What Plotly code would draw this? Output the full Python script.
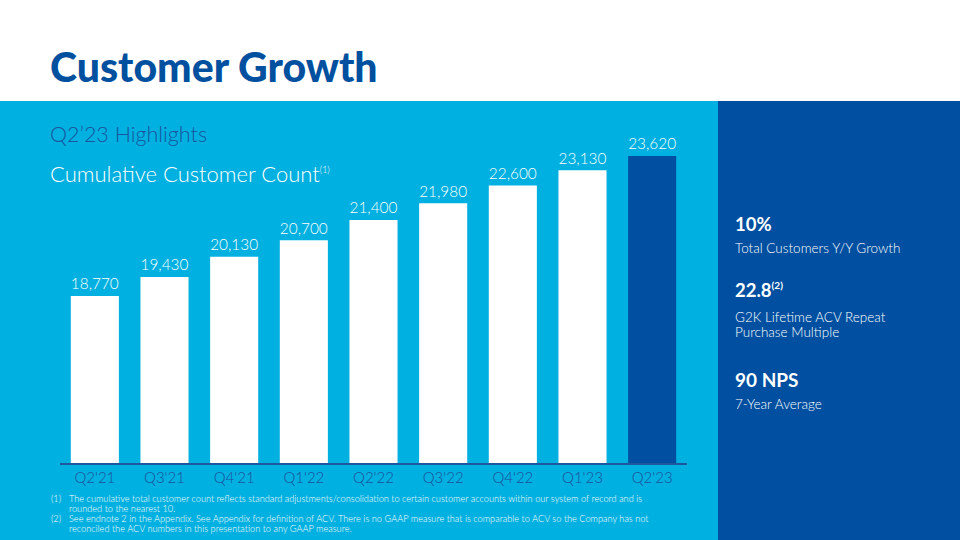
import plotly.graph_objects as go

quarters = ["Q2'21", "Q3'21", "Q4'21", "Q1'22", "Q2'22", "Q3'22", "Q4'22", "Q1'23", "Q2'23"]
customers = [18770, 19430, 20130, 20700, 21400, 21980, 22600, 23130, 23620]
labels = ["18,770", "19,430", "20,130", "20,700", "21,400", "21,980", "22,600", "23,130", "23,620"]

LIGHT = "#00B0E0"
DARK = "#004FA0"
FONT = "Lato"

colors = ["#FFFFFF"] * (len(quarters) - 1) + [DARK]

fig = go.Figure()
fig.add_trace(go.Bar(
    x=quarters, y=customers, text=labels, textposition="outside",
    textfont=dict(color="white", size=17, family=FONT, weight=300),
    marker=dict(color=colors, line=dict(width=0)),
    cliponaxis=False, hoverinfo="skip",
))

W, H = 960, 540
def px(x): return x / W
def py(y): return 1 - y / H

fig.update_layout(
    width=W, height=H, margin=dict(l=0, r=0, t=0, b=0),
    paper_bgcolor="white", plot_bgcolor="rgba(0,0,0,0)",
    showlegend=False, bargap=0.31,
    font=dict(family=FONT),
    xaxis=dict(domain=[px(60), px(687)], showline=True, linecolor="#1E56A0", linewidth=1.5,
               showgrid=False, ticks="", tickfont=dict(color="#1E4F9C", size=15, family=FONT, weight=300),
               fixedrange=True),
    yaxis=dict(domain=[py(463), py(100)], range=[12986, 25560], visible=False,
               showgrid=False, zeroline=False, fixedrange=True),
    shapes=[
        dict(type="rect", xref="paper", yref="paper", x0=0, x1=px(718), y0=0, y1=py(101),
             fillcolor=LIGHT, line=dict(width=0), layer="below"),
        dict(type="rect", xref="paper", yref="paper", x0=px(718), x1=1, y0=0, y1=py(101),
             fillcolor=DARK, line=dict(width=0), layer="below"),
    ],
)

def ann(text, x, y, size, color="white", weight=300, anchor="left"):
    fig.add_annotation(text=text, xref="paper", yref="paper",
                       x=px(x), y=py(y), xanchor=anchor, yanchor="middle", showarrow=False,
                       align="left", font=dict(size=size, color=color, family=FONT, weight=weight))

ann("Customer Growth", 48, 66, 41, color="#0050A0", weight=900)
ann("Q2’23 Highlights", 48, 134, 21.5, color="#1A55A0")
ann("Cumulative Customer Count<sup><span style='font-size:9px'>(1)</span></sup>", 48, 174, 22)

ann("10%", 733, 224, 18.5, weight=700)
ann("Total Customers Y/Y Growth", 733, 248, 13.5)
ann("22.8<sup><span style='font-size:10px'>(2)</span></sup>", 733, 290, 18.5, weight=700)
ann("G2K Lifetime ACV Repeat", 733, 317, 13.5)
ann("Purchase Multiple", 733, 332, 13.5)
ann("90 NPS", 733, 379, 19, weight=700)
ann("7-Year Average", 733, 404, 13.5)

fn_size = 9.2
ann("(1)", 49, 498, fn_size)
ann("The cumulative total customer count reflects standard adjustments/consolidation to certain customer accounts within our system of record and is", 67, 498, fn_size)
ann("rounded to the nearest 10.", 67, 508, fn_size)
ann("(2)", 49, 518, fn_size)
ann("See endnote 2 in the Appendix. See Appendix for definition of ACV. There is no GAAP measure that is comparable to ACV so the Company has not", 67, 518, fn_size)
ann("reconciled the ACV numbers in this presentation to any GAAP measure.", 67, 528, fn_size)

fig.write_html("out.html", config={"displayModeBar": False},
               post_script="document.body.style.margin='0';document.body.style.overflow='hidden';")
